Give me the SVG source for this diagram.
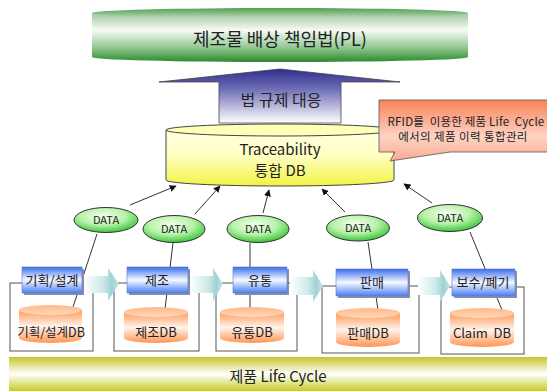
<svg xmlns="http://www.w3.org/2000/svg" width="547" height="391" viewBox="0 0 547 391">
<style>
text{font-family:"Noto Sans CJK KR","Noto Sans",sans-serif;fill:#222;text-anchor:middle}
.frame{fill:none;stroke:#555;stroke-width:1}
.conn{stroke:#333;stroke-width:1;fill:none}
.arr{marker-end:url(#ah)}
.data{fill:url(#gData);stroke:#333;stroke-width:1}
.stage{fill:url(#gStage);stroke:#5a78c8;stroke-width:0.6}
.shadow{fill:#8a8fa8}
.dbbody{fill:url(#gDB)}
.dbtop{fill:url(#gDBtop)}
.flow{fill:url(#gFlow)}
</style>
<defs>
<marker id="ah" viewBox="0 0 10 10" refX="9" refY="5" markerWidth="7" markerHeight="7" orient="auto" markerUnits="userSpaceOnUse">
<path d="M0,0 L10,5 L0,10 Z" fill="#111"/>
</marker>
<linearGradient id="gGreen" x1="0" y1="0" x2="0" y2="1">
<stop offset="0" stop-color="#9cc69c"/>
<stop offset="0.35" stop-color="#f7fbf7"/>
<stop offset="0.7" stop-color="#94c894"/>
<stop offset="1" stop-color="#2a8a2a"/>
</linearGradient>
<linearGradient id="gGreenTop" x1="0" y1="0" x2="0" y2="1">
<stop offset="0" stop-color="#4f9f4f"/>
<stop offset="1" stop-color="#b8d8b8"/>
</linearGradient>
<linearGradient id="gBlueArrow" x1="0" y1="0" x2="0" y2="1">
<stop offset="0" stop-color="#2e2e8c"/>
<stop offset="0.35" stop-color="#6a6ab4"/>
<stop offset="1" stop-color="#ffffff"/>
</linearGradient>
<linearGradient id="gYellow" x1="0" y1="0" x2="0" y2="1">
<stop offset="0" stop-color="#ffffe0"/>
<stop offset="0.45" stop-color="#ffffc4"/>
<stop offset="1" stop-color="#f2f245"/>
</linearGradient>
<linearGradient id="gCallout" x1="0" y1="0" x2="0" y2="1">
<stop offset="0" stop-color="#f8825a"/>
<stop offset="0.6" stop-color="#fdd3c4"/>
<stop offset="1" stop-color="#f9ab92"/>
</linearGradient>
<radialGradient id="gData" cx="0.45" cy="0.35" r="0.65">
<stop offset="0" stop-color="#f4fff2"/>
<stop offset="0.55" stop-color="#b8f2a8"/>
<stop offset="1" stop-color="#3cc43c"/>
</radialGradient>
<linearGradient id="gStage" x1="0" y1="0" x2="0" y2="1">
<stop offset="0" stop-color="#3a6eee"/>
<stop offset="0.5" stop-color="#f6f9ff"/>
<stop offset="1" stop-color="#4a7ef2"/>
</linearGradient>
<linearGradient id="gDB" x1="0" y1="0" x2="0" y2="1">
<stop offset="0" stop-color="#ff9a58"/>
<stop offset="0.5" stop-color="#fff3ec"/>
<stop offset="1" stop-color="#ff9550"/>
</linearGradient>
<linearGradient id="gDBtop" x1="0" y1="0" x2="0" y2="1">
<stop offset="0" stop-color="#ffb888"/>
<stop offset="1" stop-color="#ffd8bc"/>
</linearGradient>
<linearGradient id="gFlow" x1="0" y1="0" x2="1" y2="0">
<stop offset="0" stop-color="#ffffff"/>
<stop offset="0.55" stop-color="#cde9ea"/>
<stop offset="0.8" stop-color="#9fd2d6"/>
<stop offset="1" stop-color="#c4e5e7"/>
</linearGradient>
<linearGradient id="gBar" x1="0" y1="0" x2="0" y2="1">
<stop offset="0" stop-color="#c6c628"/>
<stop offset="0.5" stop-color="#ffffff"/>
<stop offset="1" stop-color="#c8cc22"/>
</linearGradient>
</defs>

<!-- Top: PL law -->
<g id="pl-law">
<path d="M92,13 V57 A188,5 0 0 0 468,57 V13 Z" fill="url(#gGreen)"/>
<ellipse cx="280" cy="13" rx="188" ry="5" fill="url(#gGreenTop)"/>
<text x="280" y="46" font-size="18">제조물 배상 책임법(PL)</text>
</g>

<!-- Blue arrow -->
<g id="law-response">
<polygon points="280,69 400,82 341,82 341,123 219,123 219,82 159,82" fill="url(#gBlueArrow)" stroke="#444" stroke-width="0.8"/>
<text x="281" y="106" font-size="16">법 규제 대응</text>
</g>

<!-- Traceability DB -->
<g id="traceability-db">
<path d="M166,130 V180 A114,6 0 0 0 394,180 V130 Z" fill="url(#gYellow)" stroke="#444" stroke-width="1"/>
<ellipse cx="280" cy="130" rx="114" ry="6" fill="#ffffb8" stroke="#444" stroke-width="1"/>
<text x="280" y="155" font-size="15">Traceability</text>
<text x="280" y="176" font-size="15">통합 DB</text>
</g>

<!-- Callout -->
<g id="callout">
<path d="M379,100 H552 V152 H450 L390,161 L395,152 H379 Z" fill="url(#gCallout)" stroke="#555" stroke-width="0.8"/>
<text x="466" y="126" font-size="11.5" letter-spacing="0.2" xml:space="preserve">RFID를  이용한 제품 Life  Cycle</text>
<text x="463" y="141" font-size="11.5" letter-spacing="0.4">에서의 제품 이력 통합관리</text>
</g>

<!-- Frames -->
<g id="frames">
<rect class="frame" x="10" y="283" width="83" height="68"/>
<rect class="frame" x="114" y="283" width="85" height="68"/>
<rect class="frame" x="216" y="283" width="81" height="68"/>
<rect class="frame" x="322" y="286" width="97" height="67"/>
<rect class="frame" x="441" y="287" width="83" height="67"/>
</g>

<!-- Flow arrows -->
<g id="flow-arrows">
<polygon class="flow" points="83,276 108,276 108,268 119,284 108,301 108,293 83,293"/>
<polygon class="flow" points="190,276 213,276 213,268 223,284 213,301 213,293 190,293"/>
<polygon class="flow" points="290,277 313,277 313,270 323,286 313,302 313,295 290,295"/>
<polygon class="flow" points="418,277 440,277 440,270 450,286 440,302 440,295 418,295"/>
</g>

<!-- Connectors -->
<g id="connectors">
<line class="conn arr" x1="130" y1="205" x2="176" y2="186"/>
<line class="conn arr" x1="195" y1="214" x2="220" y2="186"/>
<line class="conn arr" x1="263" y1="213" x2="269" y2="190"/>
<line class="conn arr" x1="345" y1="212" x2="322" y2="189"/>
<line class="conn arr" x1="432" y1="203" x2="404" y2="184"/>
<line class="conn" x1="97" y1="234" x2="73" y2="307"/>
<line class="conn" x1="173" y1="243" x2="165" y2="309"/>
<line class="conn" x1="250" y1="243" x2="250" y2="309"/>
<line class="conn" x1="368" y1="242" x2="378" y2="310"/>
<line class="conn" x1="470" y1="232" x2="502" y2="310"/>
</g>

<!-- DATA nodes -->
<g id="data-1"><ellipse class="data" cx="106" cy="220" rx="32" ry="12.5"/><text x="106" y="224" font-size="11">DATA</text></g>
<g id="data-2"><ellipse class="data" cx="174" cy="229" rx="31" ry="13.5"/><text x="174" y="233" font-size="11">DATA</text></g>
<g id="data-3"><ellipse class="data" cx="258" cy="229" rx="31" ry="13.5"/><text x="258" y="233" font-size="11">DATA</text></g>
<g id="data-4"><ellipse class="data" cx="358" cy="228" rx="31.5" ry="13"/><text x="358" y="232" font-size="11">DATA</text></g>
<g id="data-5"><ellipse class="data" cx="450" cy="218" rx="32.5" ry="13.5"/><text x="450" y="222" font-size="11">DATA</text></g>

<!-- Stage boxes -->
<g id="stage-plan"><rect class="shadow" x="24" y="269" width="60" height="26"/><rect class="stage" x="22" y="267" width="60" height="26"/><text x="52" y="285" font-size="13">기획/설계</text></g>
<g id="stage-make"><rect class="shadow" x="129" y="269" width="61" height="26"/><rect class="stage" x="127" y="267" width="61" height="26"/><text x="157" y="285" font-size="13">제조</text></g>
<g id="stage-dist"><rect class="shadow" x="235" y="269" width="54" height="26"/><rect class="stage" x="233" y="267" width="54" height="26"/><text x="260" y="285" font-size="13">유통</text></g>
<g id="stage-sale"><rect class="shadow" x="338" y="271" width="72" height="27"/><rect class="stage" x="336" y="269" width="72" height="27"/><text x="372" y="287" font-size="13">판매</text></g>
<g id="stage-repair"><rect class="shadow" x="454" y="271" width="63" height="27"/><rect class="stage" x="452" y="269" width="63" height="27"/><text x="483" y="287" font-size="13">보수/폐기</text></g>

<!-- DB cylinders -->
<g id="db-plan"><path class="dbbody" d="M19,310 V338 A31.5,5 0 0 0 82,338 V310 Z"/><ellipse class="dbtop" cx="50.5" cy="310" rx="31.5" ry="5"/><text x="51" y="337" font-size="12.5">기획/설계DB</text></g>
<g id="db-make"><path class="dbbody" d="M124,312 V338 A32,5 0 0 0 188,338 V312 Z"/><ellipse class="dbtop" cx="156" cy="312" rx="32" ry="5"/><text x="156" y="337" font-size="13">제조DB</text></g>
<g id="db-dist"><path class="dbbody" d="M220,312 V338 A32,5 0 0 0 284,338 V312 Z"/><ellipse class="dbtop" cx="252" cy="312" rx="32" ry="5"/><text x="252" y="337" font-size="13">유통DB</text></g>
<g id="db-sale"><path class="dbbody" d="M336,313 V342 A32,5 0 0 0 400,342 V313 Z"/><ellipse class="dbtop" cx="368" cy="313" rx="32" ry="5"/><text x="368" y="338" font-size="13">판매DB</text></g>
<g id="db-claim"><path class="dbbody" d="M450,313 V342 A32,5 0 0 0 514,342 V313 Z"/><ellipse class="dbtop" cx="482" cy="313" rx="32" ry="5"/><text x="482" y="338" font-size="13" xml:space="preserve">Claim  DB</text></g>

<!-- Bottom bar -->
<g id="life-cycle">
<rect x="9" y="357" width="538" height="34" fill="url(#gBar)"/>
<text x="278" y="382" font-size="15">제품 Life Cycle</text>
</g>
</svg>
